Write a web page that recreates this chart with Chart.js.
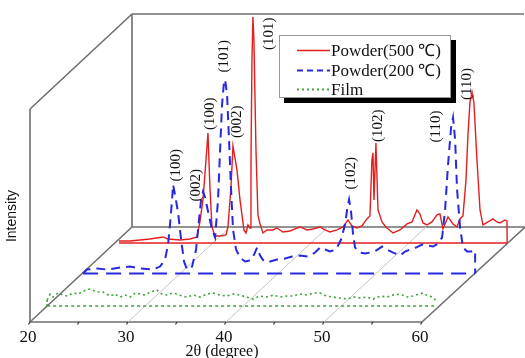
<!DOCTYPE html>
<html>
<head>
<meta charset="utf-8">
<script src="https://cdn.jsdelivr.net/npm/chart.js@4.4.1/dist/chart.umd.min.js"></script>
<style>
html,body{margin:0;padding:0;background:#fff;}
#wrap{width:525px;height:358px;position:relative;}
</style>
</head>
<body>
<div id="wrap"><canvas id="c"></canvas></div>
<script>
// ---------------- DATA ----------------
const seriesNames = ['Powder(500 \u2103)', 'Powder(200 \u2103)', 'Film'];
const xTickValues = [20, 30, 40, 50, 60];
const xTickLabels = ['20', '30', '40', '50', '60'];
const xMinorTicks = [25, 35, 45, 55];
const xTitle = '2\u03b8 (degree)';
const yTitle = 'Intensity';

const red500Theta = [20.42,21.54,22.56,23.58,24.91,25.42,26.64,27.66,28.38,28.68,28.99,29.30,29.50,29.70,29.91,30.21,30.72,31.34,31.54,31.85,32.05,32.46,32.77,33.17,33.38,33.58,33.79,33.89,33.99,34.09,34.19,34.40,34.60,34.79,35.11,35.52,36.13,36.54,37.15,37.87,38.89,39.60,40.21,40.93,41.44,41.95,42.66,43.28,43.79,44.19,44.70,45.21,45.72,46.03,46.23,46.34,46.44,46.64,46.85,47.26,47.66,48.38,49.09,49.81,50.32,50.83,51.13,51.44,51.85,52.36,52.87,53.17,53.48,53.99,54.50,54.91,55.21,55.52,55.83,56.03,56.23,56.44,56.64,56.95,57.26,57.56,58.07,58.58,58.99,59.30,59.81,60.01,60.03];
const red500Int = [2,2,3,4,6,4,3,4,6,21,43,83,110,56,16,7,7,8,16,56,97,73,43,13,10,18,15,83,183,226,203,93,28,20,10,13,13,15,11,12,16,13,14,16,13,11,13,16,23,17,15,17,24,27,83,90,43,100,33,21,16,10,13,19,21,33,29,20,18,21,28,29,14,26,19,16,24,27,63,108,140,151,140,83,33,18,21,24,21,20,23,22,0];

const blue200Theta = [20.11,20.5,21.53,22.56,23.88,24.9,25.92,27.25,27.96,28.47,28.78,28.98,29.19,29.29,29.49,29.80,30.11,30.41,30.72,31.23,31.64,31.94,32.15,32.35,32.56,32.86,33.27,33.58,33.88,34.09,34.29,34.49,34.60,34.80,35.00,35.21,35.41,35.72,36.13,36.64,37.15,37.56,37.86,38.17,38.58,39.19,39.90,40.72,41.43,42.21,43.07,43.78,44.29,44.80,45.31,45.92,46.43,46.84,47.05,47.25,47.45,47.66,47.86,48.37,48.88,49.39,50.0,50.62,51.13,51.74,52.45,52.96,53.47,54.08,54.70,55.31,55.82,56.33,56.74,57.05,57.35,57.66,57.86,58.07,58.27,58.58,58.88,59.29,59.70,60.11,60.12];
const blue200Int = [0,4,5,4,6,7,5,4,7,14,29,49,74,89,79,61,34,12,4,7,24,54,74,82,76,62,44,36,74,124,169,192,194,179,134,84,44,24,16,12,13,19,26,18,12,12,14,15,17,18,17,21,26,24,22,24,34,49,64,74,62,39,26,21,20,21,23,27,24,21,18,22,24,26,29,28,27,30,36,64,109,146,156,134,84,46,26,22,22,23,0];

const filmTheta = [20.0,20.3,20.6,21.1,21.62,22.1,22.64,23.2,23.66,24.38,25.09,25.70,26.42,26.9,27.44,28.0,28.46,29.0,29.48,30.0,30.5,31.21,31.7,32.24,32.8,33.26,33.8,34.28,34.9,35.60,36.3,36.93,37.6,38.36,39.0,39.69,40.3,41.01,41.7,42.44,43.1,43.77,44.4,45.09,45.8,46.52,47.2,47.85,48.5,49.18,49.9,50.61,51.3,51.93,52.6,53.26,54.0,54.69,55.3,56.01,56.7,57.34,57.9,58.36,58.9,59.38,59.79];
const filmInt = [6,12,9,13,11,10,13,12,15,17,14,14,10,12,9,11,9,13,12,11,14,16,12,11,13,12,10,9,11,9,12,13,11,10,12,11,9,7,10,9,11,9,10,10,12,11,13,13,10,9,8,7,9,8,9,7,10,9,11,12,9,10,12,13,10,9,4];

const redHkl = ['(100)','(002)','(101)','(102)','(110)'];
const redHklTheta = [29.70, 32.46, 35.72, 46.85, 55.92];
const redHklInt = [113, 105, 193, 101, 143];
const blueHkl = ['(100)','(002)','(101)','(102)','(110)'];
const blueHklTheta = [29.59, 31.63, 34.49, 47.45, 56.12];
const blueHklInt = [92, 72, 201, 84, 131];

// ---------------- PROJECTION / LAYOUT ----------------
const DX = 10.408;   // depth shift along 2theta for z = 1
const DY = 95;       // depth shift along intensity for z = 1
const WALL_H = 213;
const Z_RED = 0.832, Z_BLUE = 0.51, Z_FILM = 0.168;

function proj(t, v, z) { return { x: t + z * DX, y: v + z * DY }; }
function series(th, iv, z) { return th.map((t, i) => proj(t, iv[i], z)); }
function seg(a, b) { return [proj(a[0], a[1], a[2]), proj(b[0], b[1], b[2])]; }

const RED = 'rgb(228,30,30)';
const BLUE = 'rgb(40,40,225)';
const GREEN = 'rgb(60,165,60)';
const FRAME = '#6e6e6e';
const GRID = '#c4c4c4';

const datasets = [];
function addLine(data, color, width, dash) {
  datasets.push({ data, borderColor: color, borderWidth: width, borderDash: dash || [], showLine: true,
    pointRadius: 0, tension: 0, fill: false, borderCapStyle: 'butt', borderJoinStyle: 'miter' });
}
const tMin = xTickValues[0], tMax = xTickValues[xTickValues.length - 1];
// film (front, drawn on top)
addLine(series(filmTheta, filmInt, Z_FILM), GREEN, 1.6, [2, 3]);
addLine(seg([filmTheta[0], 0, Z_FILM], [filmTheta[filmTheta.length - 1], 0, Z_FILM]), GREEN, 1.6, [3, 3]);
addLine(seg([filmTheta[0], 0, Z_FILM], [filmTheta[0], filmInt[0], Z_FILM]), GREEN, 1.6, [2, 2]);
// powder 200
addLine(series(blue200Theta, blue200Int, Z_BLUE), BLUE, 2, [9, 6]);
addLine(seg([blue200Theta[0], 0, Z_BLUE], [blue200Theta[blue200Theta.length - 1], 0, Z_BLUE]), BLUE, 2, [15, 8]);
// powder 500
addLine(series(red500Theta, red500Int, Z_RED), RED, 1.4, []);
addLine(seg([red500Theta[0], 0, Z_RED], [red500Theta[red500Theta.length - 1], 0, Z_RED]), RED, 1.6, []);
// floor grid
[30, 40, 50].forEach(t => addLine(seg([t, 0, 0], [t, 0, 1]), GRID, 1, []));
// frame
addLine(seg([tMin, 0, 0], [tMax, 0, 0]), FRAME, 1.6);
addLine(seg([tMax, 0, 0], [tMax + 0.12, 0, 1]), FRAME, 1.6);
addLine(seg([tMin, 0, 1], [tMax + 0.12, 0, 1]), FRAME, 1.6);
addLine(seg([tMin, 0, 0], [tMin, 0, 1]), FRAME, 1.6);
addLine(seg([tMin, 0, 0], [tMin, WALL_H, 0]), FRAME, 1.6);
addLine(seg([tMin, WALL_H, 0], [tMin, WALL_H, 1]), FRAME, 1.6);
addLine(seg([tMin, 0, 1], [tMin, WALL_H, 1]), FRAME, 1.6);
addLine(seg([tMin, WALL_H, 1], [tMax, WALL_H, 1]), FRAME, 1.6);

const overlay = {
  id: 'overlay',
  afterDraw(chart) {
    const ctx = chart.ctx, xs = chart.scales.x, ys = chart.scales.y;
    const P = (t, v, z) => { const p = proj(t, v, z); return [xs.getPixelForValue(p.x), ys.getPixelForValue(p.y)]; };
    ctx.save();
    // ticks
    ctx.strokeStyle = '#333'; ctx.lineWidth = 1.2;
    xTickValues.concat(xMinorTicks).forEach(t => {
      const [x, y] = P(t, 0, 0);
      ctx.beginPath(); ctx.moveTo(x, y); ctx.lineTo(x - 1.5, y + 2.5); ctx.stroke();
    });
    // tick labels
    ctx.fillStyle = '#111';
    ctx.font = '17px "Liberation Serif", serif';
    ctx.textAlign = 'center'; ctx.textBaseline = 'middle';
    xTickValues.forEach((t, i) => { const [x, y] = P(t, 0, 0); ctx.fillText(xTickLabels[i], x - 2, y + 16); });
    // axis title
    const [cx, cy] = P((tMin + tMax) / 2, 0, 0);
    ctx.font = '16px "Liberation Serif", serif';
    ctx.fillText(xTitle, cx - 4, cy + 30);
    // y title
    ctx.save();
    ctx.translate(12, 216); ctx.rotate(-Math.PI / 2);
    ctx.font = '14px "Liberation Sans Narrow", "Liberation Sans", sans-serif';
    ctx.fillText(yTitle, 0, 0);
    ctx.restore();
    // hkl labels
    ctx.font = '15px "Liberation Serif", serif';
    ctx.textAlign = 'left'; ctx.textBaseline = 'middle';
    const drawHkl = (names, th, iv, z) => names.forEach((n, i) => {
      const [x, y] = P(th[i], iv[i], z);
      ctx.save(); ctx.translate(x, y); ctx.rotate(-Math.PI / 2); ctx.fillText(n, 0, 0); ctx.restore();
    });
    drawHkl(redHkl, redHklTheta, redHklInt, Z_RED);
    drawHkl(blueHkl, blueHklTheta, blueHklInt, Z_BLUE);
    // legend
    const lx = 279, ly = 35, lw = 172, lh = 63;
    ctx.fillStyle = '#000'; ctx.fillRect(lx + 5, ly + 5, lw, lh);
    ctx.fillStyle = '#fff'; ctx.fillRect(lx, ly, lw, lh);
    ctx.strokeStyle = '#999'; ctx.lineWidth = 1; ctx.strokeRect(lx + 0.5, ly + 0.5, lw - 1, lh - 1);
    const styles = [[RED, 1.4, []], [BLUE, 2, [6, 4]], [GREEN, 2, [2, 3]]];
    const rows = [50.5, 70.5, 89.5];
    ctx.font = '17px "Liberation Serif", serif';
    ctx.textBaseline = 'middle'; ctx.textAlign = 'left';
    seriesNames.forEach((n, i) => {
      ctx.strokeStyle = styles[i][0]; ctx.lineWidth = styles[i][1]; ctx.setLineDash(styles[i][2]);
      ctx.beginPath(); ctx.moveTo(297, rows[i]); ctx.lineTo(330, rows[i]); ctx.stroke();
      ctx.setLineDash([]);
      ctx.fillStyle = '#111'; ctx.fillText(n, 331, rows[i] + 1);
    });
    ctx.restore();
  }
};

new Chart(document.getElementById('c'), {
  type: 'scatter',
  data: { datasets },
  options: {
    responsive: true, maintainAspectRatio: false, animation: false, events: [],
    layout: { padding: 0 },
    plugins: { legend: { display: false }, tooltip: { enabled: false } },
    scales: {
      x: { type: 'linear', display: false, min: tMin - 30 / 9.8, max: tMin + 495 / 9.8 },
      y: { type: 'linear', display: false, min: -36, max: 322 }
    }
  },
  plugins: [overlay]
});
</script>
</body>
</html>
